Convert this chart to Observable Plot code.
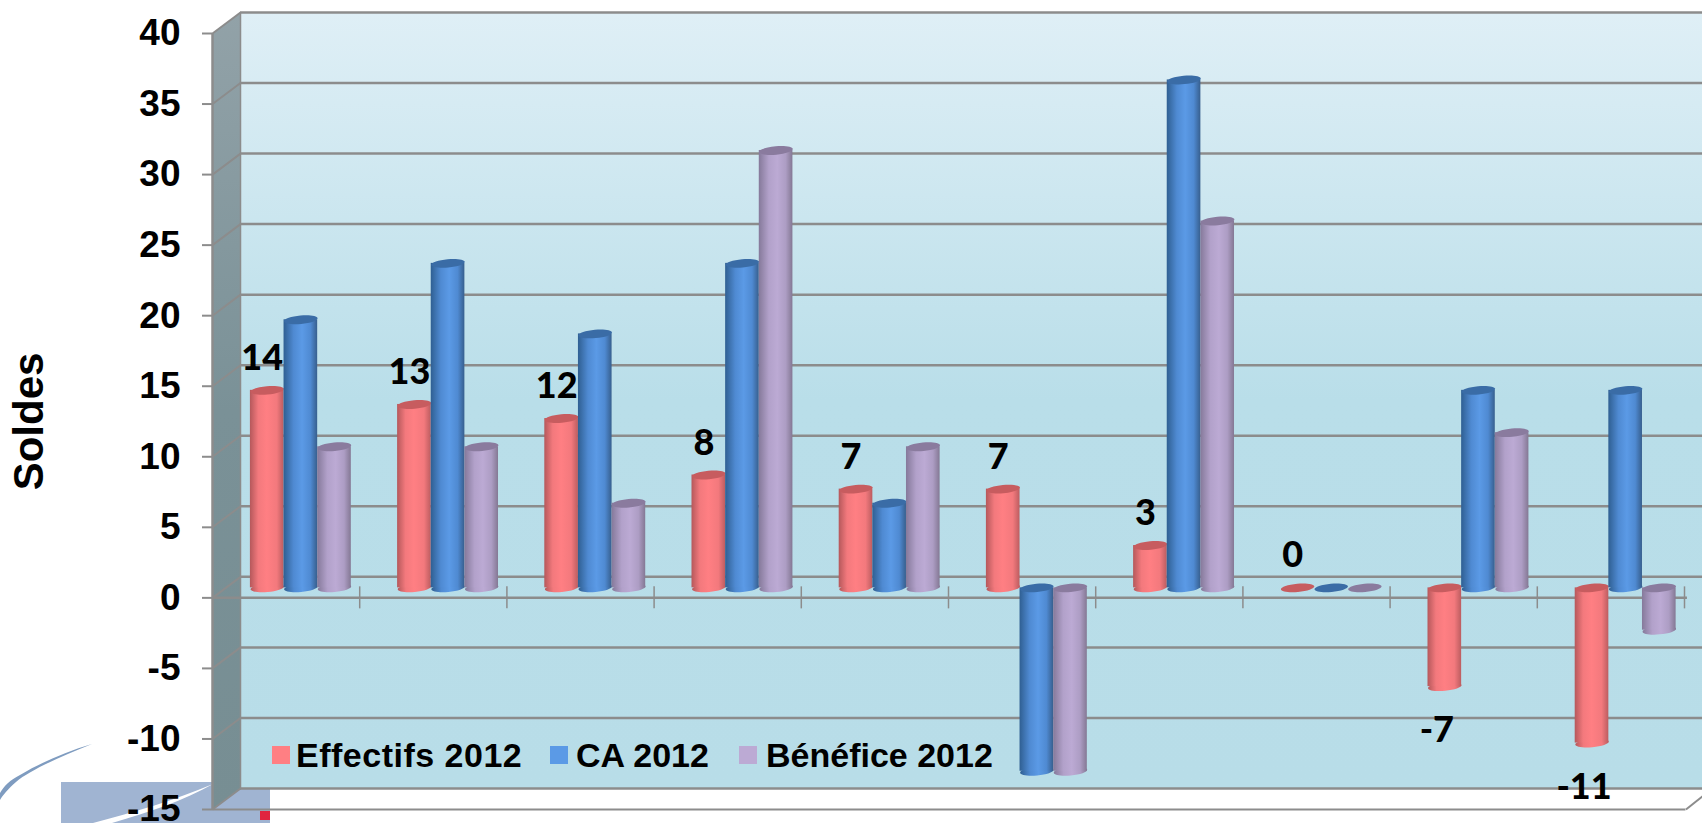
<!DOCTYPE html>
<html><head><meta charset="utf-8">
<style>
html,body{margin:0;padding:0;background:#fff;width:1702px;height:823px;overflow:hidden;position:relative}
#deco{position:absolute;left:0;top:0}
#chart{position:absolute;left:0;top:0}
#chart svg{display:block;background:transparent}
.lg{position:absolute;font:bold 34px "Liberation Sans",Arial,sans-serif;font-variant-ligatures:none;color:#000;line-height:40px;top:735px;white-space:nowrap}
.sw{position:absolute;width:18px;height:18px;top:746px}
</style>
<script src="https://cdn.jsdelivr.net/npm/d3@7"></script>
<script src="https://cdn.jsdelivr.net/npm/@observablehq/plot@0.6"></script>
</head><body>
<svg id="deco" width="1702" height="823">
  <rect x="61" y="782" width="209" height="41" fill="#a0b4d2"/>
  <path d="M92 744 C60 757 30 770 16 782 C8 789 3 795 0 800 L0 793 C4 786 10 780 20 775 C40 763 65 752 92 744Z" fill="#7f9cc0"/>
  <path d="M213 784 C175 800 135 812 93 823 L112 823 C150 812 185 800 213 784Z" fill="#fff"/>
  <rect x="260" y="811" width="10" height="9" fill="#e0243f"/>
</svg>
<div id="chart"></div>
<span class="sw" style="left:272px;background:#ff7f83"></span><span class="lg" style="left:296px;letter-spacing:.5px">Effectifs 2012</span>
<span class="sw" style="left:550px;background:#5b9ae6"></span><span class="lg" style="left:576px">CA 2012</span>
<span class="sw" style="left:739px;background:#bcaad4"></span><span class="lg" style="left:766px">Bénéfice 2012</span>
<script>
const series = ["Effectifs 2012", "CA 2012", "Bénéfice 2012"];
const effectifs = [14, 13, 12, 8, 7, 7, 3, 0, -7, -11];
const ca = [19, 23, 18, 23, 6, -13, 36, 0, 14, 14];
const benefice = [10, 10, 6, 31, 10, -13, 26, 0, 11, -3];
const yTicks = [-15, -10, -5, 0, 5, 10, 15, 20, 25, 30, 35, 40];
const xTicks = [1, 2, 3, 4, 5, 6, 7, 8, 9, 10];

const gradIds = ["gRed", "gBlue", "gPurple"];
const capColors = ["#c75c5f", "#3a6ca6", "#8a7b9e"];
const barStart = 0.2575, barW = 0.2285;
const depthX = 28 / 147.2, depthY = 21 / 14.1;

const rows = [effectifs, ca, benefice].flatMap((vals, s) =>
  vals.map((v, i) => ({s, i, v, x1: i + barStart + s * barW, x2: i + barStart + (s + 1) * barW, xc: i + barStart + (s + 0.5) * barW})));

// slanted elliptical cap of a cylinder
const ell = (rx, ry, rot) => ({draw(c) {
  const k = 0.5523, cs = Math.cos(rot), sn = Math.sin(rot);
  const P = (x, y) => [x * cs - y * sn, x * sn + y * cs];
  c.moveTo(...P(rx, 0));
  c.bezierCurveTo(...P(rx, k * ry), ...P(k * rx, ry), ...P(0, ry));
  c.bezierCurveTo(...P(-k * rx, ry), ...P(-rx, k * ry), ...P(-rx, 0));
  c.bezierCurveTo(...P(-rx, -k * ry), ...P(-k * rx, -ry), ...P(0, -ry));
  c.bezierCurveTo(...P(k * rx, -ry), ...P(rx, -k * ry), ...P(rx, 0));
  c.closePath();
}});
const cap = ell(16.8, 4.2, -0.09);

const defs = () => {
  const g = d3.create("svg:defs");
  g.html(`
  <linearGradient id="gRed"><stop offset="0" stop-color="#b5585b"/><stop offset=".25" stop-color="#f3797d"/><stop offset=".5" stop-color="#ff7f83"/><stop offset=".8" stop-color="#f3797d"/><stop offset="1" stop-color="#bc5d60"/></linearGradient>
  <linearGradient id="gBlue"><stop offset="0" stop-color="#2f5f92"/><stop offset=".3" stop-color="#4f8ad2"/><stop offset=".55" stop-color="#5b9ae6"/><stop offset=".8" stop-color="#4f8ad2"/><stop offset="1" stop-color="#375f8e"/></linearGradient>
  <linearGradient id="gPurple"><stop offset="0" stop-color="#85799a"/><stop offset=".3" stop-color="#b2a1ca"/><stop offset=".55" stop-color="#bcaad4"/><stop offset=".8" stop-color="#ad9dc4"/><stop offset="1" stop-color="#847894"/></linearGradient>
  <linearGradient id="gWall" x1="0" y1="0" x2="0" y2="1"><stop offset="0" stop-color="#dfeff6"/><stop offset=".5" stop-color="#b9dee9"/><stop offset="1" stop-color="#b8dde8"/></linearGradient>
  <linearGradient id="gSide" x1="0" y1="0" x2="0" y2="1"><stop offset="0" stop-color="#92a2a8"/><stop offset=".5" stop-color="#7a9197"/><stop offset="1" stop-color="#778e93"/></linearGradient>`);
  return g.node();
};

const gridColor = "#8c8c8c";
const sideWall = [{x:0,y:-15},{x:0,y:40},{x:depthX,y:40+depthY},{x:depthX,y:-15+depthY},{x:0,y:-15}];
const seriesMarks = [0, 1, 2].flatMap(s => {
  const d = rows.filter(r => r.s === s);
  const nz = d.filter(r => r.v !== 0);
  return [
    Plot.dot(nz, {x: "xc", y: r => Math.min(0, r.v), r: 1, symbol: cap, fill: `url(#${gradIds[s]})`, stroke: "none", dy: -10}),
    Plot.rectY(nz, {x1: "x1", x2: "x2", y1: 0, y2: "v", fill: `url(#${gradIds[s]})`, dy: -10}),
    Plot.dot(d, {x: "xc", y: r => Math.max(0, r.v), r: 1, symbol: cap, fill: capColors[s], stroke: "none", dy: -10})
  ];
});
const labelRows = rows.filter(r => r.s === 0);
const labelFont = {fontFamily: "Lato", fontWeight: 900, fontSize: 36, fill: "#000"};

const plot = Plot.plot({
  width: 1702, height: 823,
  marginLeft: 212, marginRight: 18, marginTop: 33, marginBottom: 14,
  x: {domain: [0, 10], axis: null},
  y: {domain: [-15, 40]},
  style: {fontFamily: '"Liberation Sans", Arial, sans-serif', background: "transparent", overflow: "hidden"},
  marks: [
    defs,
    Plot.rect([0], {x1: depthX, x2: 10 + depthX * 1.5, y1: -15 + depthY, y2: 40 + depthY, fill: "url(#gWall)"}),
    Plot.line(sideWall, {x: "x", y: "y", fill: "url(#gSide)", stroke: "none"}),
    Plot.ruleY(yTicks, {y: d => d + depthY, x1: depthX, x2: 10 + depthX * 1.5, stroke: gridColor, strokeWidth: 2.5}),
    Plot.link(yTicks, {x1: 0, y1: d => d, x2: depthX, y2: d => d + depthY, stroke: gridColor, strokeWidth: 2}),
    Plot.ruleX([depthX], {y1: -15 + depthY, y2: 40 + depthY, stroke: gridColor, strokeWidth: 1.5}),
    Plot.ruleX([0], {y1: -15, y2: 40, stroke: gridColor, strokeWidth: 2.5}),
    Plot.ruleY([-15], {x1: 0, x2: 10.01, stroke: gridColor, strokeWidth: 2}),
    Plot.link([0], {x1: 10.01, y1: -15, x2: 10 + depthX, y2: -15 + depthY, stroke: gridColor, strokeWidth: 2}),
    Plot.ruleY([0], {x1: 0, x2: 10.02, stroke: gridColor, strokeWidth: 2.5}),
    Plot.ruleX(xTicks, {y1: -0.78, y2: 0.78, stroke: gridColor, strokeWidth: 1.5}),
    Plot.axisY({ticks: yTicks, tickSize: 10, tickPadding: 22, stroke: gridColor, strokeWidth: 2, fill: "#000", label: null,
      fontSize: 37, fontWeight: "bold", tickFormat: d => String(d)}),
    ...seriesMarks,
    Plot.text(labelRows.filter(r => r.v >= 0), {x: "xc", y: "v", text: r => String(r.v), dx: -5, dy: -42, ...labelFont}),
    Plot.text(labelRows.filter(r => r.v < 0), {x: "xc", y: "v", text: r => String(r.v), dx: -8, dy: 34, ...labelFont}),
    Plot.text(["Soldes"], {frameAnchor: "left", textAnchor: "middle", rotate: -90, dx: -183, fontWeight: "bold", fontSize: 42, fill: "#000"})
  ]
});
document.getElementById("chart").append(plot);
</script>
</body></html>
